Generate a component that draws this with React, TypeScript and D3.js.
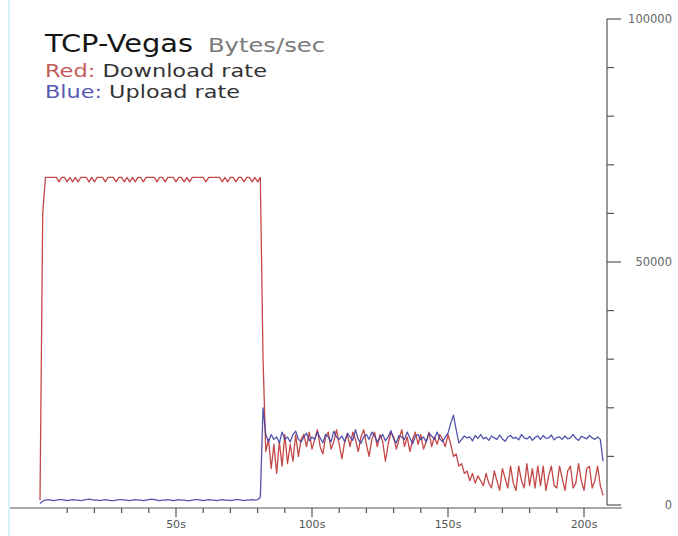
import React from "react";
import * as d3 from "d3";

// Download rate (bytes/sec), one value per second from t = 0
const downloadStart = [1000, 60000, 67400];
const downloadPlateau = [
  67400, 67400, 67400, 67400, 66500, 67400, 67400, 66500, 67400, 66500,
  67400, 66500, 67400, 67400, 67400, 66500, 67400, 66500, 67400, 67400,
  67400, 66500, 67400, 67400, 67400, 66500, 67400, 67400, 66500, 67400,
  66500, 67400, 66500, 67400, 67400, 66500, 67400, 67400, 67400, 67400,
  66500, 67400, 67400, 66500, 67400, 67400, 67400, 66500, 67400, 67400,
  66500, 67400, 66500, 67400, 67400, 67400, 67400, 67400, 66500, 67400,
  67400, 67400, 67400, 67400, 66500, 67400, 66500, 67400, 67400, 66500,
  67400, 67400, 66500, 67400, 67400, 66500, 67400, 66500, 67400,
];
const downloadDrop = [30000];
const downloadSettle = [
  11000, 13500, 7500, 12500, 6500, 13000, 8000, 14500, 8500, 12500,
  9000, 14500, 10000, 13500,
];
const downloadShared = [
  14500, 12000, 15000, 11500, 13500, 15500, 12000, 10500, 14000, 15000,
  11500, 13000, 15500, 12500, 9500, 13000, 14500, 12000, 15000, 13500,
  11000, 14000, 15500, 12500, 10000, 13500, 15000, 12000, 14500, 13000,
  9000, 12500, 15000, 14000, 11500, 13500, 15500, 12000, 14000, 11000,
  13500, 15000, 12500, 14500, 11500, 13000, 15000, 12000, 14000, 12500,
  14500, 13500, 12000, 14500,
];
const downloadLate = [
  12500, 10000, 10500, 8000, 8500, 6500, 7000, 5000, 6500, 4500,
  6000, 5000, 4000, 6500, 4500, 3500, 7000, 5000, 3000, 7500,
  5500, 3500, 8000, 4500, 3000, 8000, 5000, 3500, 8500, 4000,
  7500, 3500, 8000, 4000, 8000, 3000, 6000, 8000, 4000, 3500,
  8000, 5500, 3000, 7000, 8000, 3500, 4500, 8500, 5000, 3000,
  7500, 8000, 3500, 5000, 8000, 4000, 2000,
];

// Upload rate (bytes/sec), one value per second from t = 0
const uploadStart = [300, 800];
const uploadIdle = [
  1000, 1100, 1000, 900, 1000, 1100, 1100, 1000, 900, 1000,
  1100, 1000, 1000, 900, 1000, 1100, 1200, 1100, 1000, 1000,
  900, 1000, 1100, 1000, 900, 900, 1000, 1100, 1100, 1000,
  1000, 900, 1000, 1100, 1000, 1000, 900, 1000, 1100, 1200,
  1100, 1000, 900, 1000, 1000, 1100, 1000, 900, 1000, 1100,
  1000, 1000, 900, 900, 1000, 1100, 1100, 1000, 900, 1000,
  1100, 1000, 1000, 900, 1000, 1100, 1000, 1000, 900, 1000,
  1100, 1100, 1000, 900, 1000, 1000, 1100, 1000, 1100,
];
const uploadJump = [1600, 20000, 14500];
const uploadShared = [
  13000, 14500, 13500, 14000, 12800, 15000, 13500, 14000, 13000, 14500,
  15200, 13500, 13000, 14000, 14800, 13200, 14000, 13500, 15000, 13800,
  12800, 14500, 14000, 13000, 15200, 14000, 13500, 14200, 13000, 14800,
  14000, 13300, 15500, 13500, 12700, 14000, 14500, 13500, 15000, 14200,
  13000, 13800, 14500, 13200, 14000, 15300, 13600, 12800, 14300, 14000,
  13500, 15000, 13800, 12600, 14200, 14500, 13400, 14000, 13000, 14800,
  14200, 13500, 15000, 13600, 13000, 14000, 14800, 16800,
];
const uploadSpike = [18500, 15500, 12800];
const uploadLate = [
  13500, 14200, 13800, 14000, 13200, 14300, 13700, 14500, 13600, 13900,
  13300, 14200, 13800, 13500, 14400, 13600, 13100, 14000, 14300, 13700,
  13900, 13400, 14500, 13800, 13600, 14100, 13300, 13900, 14200, 13500,
  14300, 13700, 13800, 14400, 13400, 13900, 14000, 13500, 14200, 13600,
  13800, 14500, 13700, 13300, 14100, 13900, 13600, 14300, 13800, 13500,
  14000,
];
const uploadEnd = [13500, 9000];

const download = [
  ...downloadStart, ...downloadPlateau, ...downloadDrop, ...downloadSettle,
  ...downloadShared, ...downloadLate,
];
const upload = [
  ...uploadStart, ...uploadIdle, ...uploadJump, ...uploadShared,
  ...uploadSpike, ...uploadLate, ...uploadEnd,
];

const xTickValues = [10, 20, 30, 40, 50, 60, 70, 80, 90, 100, 110, 120, 130, 140, 150, 160, 170, 180, 190, 200];
const xMajorLabels = [50, 100, 150, 200];
const yTickValues = [0, 10000, 20000, 30000, 40000, 50000, 60000, 70000, 80000, 90000, 100000];
const yMajorLabels = [0, 50000, 100000];

export default function App() {
  const W = 678, H = 536;
  const x = d3.scaleLinear().domain([0, 200]).range([40, 584]);
  const y = d3.scaleLinear().domain([0, 100000]).range([505, 19]);
  const axisX = 607;
  const baseY = 508;
  const line = d3
    .line<number>()
    .x((_, i) => x(i))
    .y((d) => y(d));
  const font = "'DejaVu Sans', Verdana, sans-serif";
  return (
    <svg
      width={W}
      height={H}
      style={{ position: "absolute", left: 0, top: 0, background: "#fff" }}
    >
      <rect x={0} y={0} width={W} height={H} fill="#fff" />
      <rect x={8} y={0} width={2} height={H} fill="#d8f3f7" />

      {/* title */}
      <text x={45} y={52} fontFamily={font} fontSize={24} fill="#151515" textLength={148} lengthAdjust="spacingAndGlyphs">
        TCP-Vegas
      </text>
      <text x={208} y={52} fontFamily={font} fontSize={19} fill="#7a7a7a" textLength={117} lengthAdjust="spacingAndGlyphs">
        Bytes/sec
      </text>
      <text x={45} y={77} fontFamily={font} fontSize={18} textLength={222} lengthAdjust="spacingAndGlyphs">
        <tspan fill="#c25a5a">Red:</tspan>
        <tspan fill="#333"> Download rate</tspan>
      </text>
      <text x={45} y={98} fontFamily={font} fontSize={18} textLength={195} lengthAdjust="spacingAndGlyphs">
        <tspan fill="#5a5ab4">Blue:</tspan>
        <tspan fill="#333"> Upload rate</tspan>
      </text>

      {/* x axis */}
      <line x1={10} x2={622} y1={baseY} y2={baseY} stroke="#555" strokeWidth={1.2} />
      {xTickValues.map((t) => {
        const major = xMajorLabels.includes(t);
        return (
          <line key={t} x1={x(t)} x2={x(t)} y1={baseY} y2={baseY + (major ? 9 : 5)} stroke="#555" strokeWidth={1.2} />
        );
      })}
      {xMajorLabels.map((t) => (
        <text key={t} x={x(t)} y={528} fontFamily={font} fontSize={11} fill="#555" textAnchor="middle">
          {t}s
        </text>
      ))}

      {/* right y axis */}
      <line x1={axisX} x2={axisX} y1={y(100000)} y2={y(0)} stroke="#555" strokeWidth={1.2} />
      {yTickValues.map((v) => {
        const major = yMajorLabels.includes(v);
        return (
          <line key={v} x1={axisX} x2={axisX + (major ? 14 : 7)} y1={y(v)} y2={y(v)} stroke="#555" strokeWidth={1.2} />
        );
      })}
      {yMajorLabels.map((v) => (
        <text key={v} x={672} y={y(v) + 4} fontFamily={font} fontSize={11.5} fill="#666" textAnchor="end">
          {v}
        </text>
      ))}

      {/* series */}
      <path d={line(download) || ""} fill="none" stroke="#c44848" strokeWidth={1.3} strokeLinejoin="round" />
      <path d={line(upload) || ""} fill="none" stroke="#4040a4" strokeWidth={1.3} strokeLinejoin="round" opacity={0.9} />
    </svg>
  );
}
